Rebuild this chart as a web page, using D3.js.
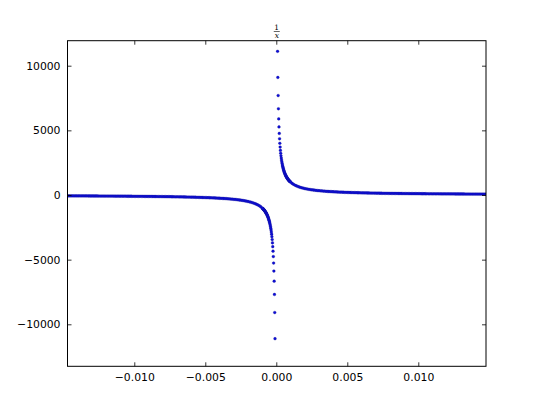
<!DOCTYPE html>
<html>
<head>
<meta charset="utf-8">
<script src="https://cdn.jsdelivr.net/npm/d3@7"></script>
<style>
  html, body { margin: 0; padding: 0; background: #fff; }
  svg { display: block; }
</style>
</head>
<body>
<svg id="chart" width="540" height="407"></svg>
<script>
// ---- data ----
const xTicks = [-0.010, -0.005, 0.000, 0.005, 0.010];
const yTicks = [-10000, -5000, 0, 5000, 10000];

const xPos = [0.00009,0.00011,0.00013,0.00015,0.00017,0.00019,0.00021,0.00023,0.00025,0.00027,0.00029,
0.00031,0.00033,0.00035,0.00037,0.00039,0.00041,0.00043,0.00045,0.00047,0.00049,
0.00051,0.00053,0.00055,0.00057,0.00059,0.00061,0.00063,0.00065,0.00067,0.00069,
0.00071,0.00073,0.00075,0.00077,0.00079,0.00081,0.00083,0.00085,0.00087,0.00089,
0.00091,0.00093,0.00095,0.00097,0.00099,
0.0011,0.0012,0.0013,0.0014,0.0015,0.0016,0.0017,0.0018,0.0019,0.0020,
0.0021,0.0022,0.0023,0.0024,0.0025,0.0026,0.0027,0.0028,0.0029,0.0030,
0.0031,0.0032,0.0033,0.0034,0.0035,0.0036,0.0037,0.0038,0.0039,0.0040,
0.0041,0.0042,0.0043,0.0044,0.0045,0.0046,0.0047,0.0048,0.0049,0.0050,
0.0051,0.0052,0.0053,0.0054,0.0055,0.0056,0.0057,0.0058,0.0059,0.0060,
0.0061,0.0062,0.0063,0.0064,0.0065,0.0066,0.0067,0.0068,0.0069,0.0070,
0.0071,0.0072,0.0073,0.0074,0.0075,0.0076,0.0077,0.0078,0.0079,0.0080,
0.0081,0.0082,0.0083,0.0084,0.0085,0.0086,0.0087,0.0088,0.0089,0.0090,
0.0091,0.0092,0.0093,0.0094,0.0095,0.0096,0.0097,0.0098,0.0099,0.0100,
0.0101,0.0102,0.0103,0.0104,0.0105,0.0106,0.0107,0.0108,0.0109,0.0110,
0.0111,0.0112,0.0113,0.0114,0.0115,0.0116,0.0117,0.0118,0.0119,0.0120,
0.0121,0.0122,0.0123,0.0124,0.0125,0.0126,0.0127,0.0128,0.0129,0.0130,
0.0131,0.0132,0.0133,0.0134,0.0135,0.0136,0.0137,0.0138,0.0139,0.0140,
0.0141,0.0142,0.0143,0.0144,0.0145,0.0146,0.0147,0.0148];

const yPos = [11111,9091,7692,6667,5882,5263,4762,4348,4000,3704,3448,
3226,3030,2857,2703,2564,2439,2326,2222,2128,2041,
1961,1887,1818,1754,1695,1639,1587,1538,1493,1449,
1408,1370,1333,1299,1266,1235,1205,1176,1149,1124,
1099,1075,1053,1031,1010,
909,833,769,714,667,625,588,556,526,500,
476,455,435,417,400,385,370,357,345,333,
323,313,303,294,286,278,270,263,256,250,
244,238,233,227,222,217,213,208,204,200,
196,192,189,185,182,179,175,172,169,167,
164,161,159,156,154,152,149,147,145,143,
141,139,137,135,133,132,130,128,127,125,
123,122,120,119,118,116,115,114,112,111,
110,109,108,106,105,104,103,102,101,100,
99,98,97,96,95,94,93,93,92,91,
90,89,88,88,87,86,85,85,84,83,
83,82,81,81,80,79,79,78,78,77,
76,76,75,75,74,74,73,72,72,71,
71,70,70,69,69,68,68,68];

const xNeg = [-0.00009,-0.00011,-0.00013,-0.00015,-0.00017,-0.00019,-0.00021,-0.00023,-0.00025,-0.00027,-0.00029,
-0.00031,-0.00033,-0.00035,-0.00037,-0.00039,-0.00041,-0.00043,-0.00045,-0.00047,-0.00049,
-0.00051,-0.00053,-0.00055,-0.00057,-0.00059,-0.00061,-0.00063,-0.00065,-0.00067,-0.00069,
-0.00071,-0.00073,-0.00075,-0.00077,-0.00079,-0.00081,-0.00083,-0.00085,-0.00087,-0.00089,
-0.00091,-0.00093,-0.00095,-0.00097,-0.00099,
-0.0011,-0.0012,-0.0013,-0.0014,-0.0015,-0.0016,-0.0017,-0.0018,-0.0019,-0.0020,
-0.0021,-0.0022,-0.0023,-0.0024,-0.0025,-0.0026,-0.0027,-0.0028,-0.0029,-0.0030,
-0.0031,-0.0032,-0.0033,-0.0034,-0.0035,-0.0036,-0.0037,-0.0038,-0.0039,-0.0040,
-0.0041,-0.0042,-0.0043,-0.0044,-0.0045,-0.0046,-0.0047,-0.0048,-0.0049,-0.0050,
-0.0051,-0.0052,-0.0053,-0.0054,-0.0055,-0.0056,-0.0057,-0.0058,-0.0059,-0.0060,
-0.0061,-0.0062,-0.0063,-0.0064,-0.0065,-0.0066,-0.0067,-0.0068,-0.0069,-0.0070,
-0.0071,-0.0072,-0.0073,-0.0074,-0.0075,-0.0076,-0.0077,-0.0078,-0.0079,-0.0080,
-0.0081,-0.0082,-0.0083,-0.0084,-0.0085,-0.0086,-0.0087,-0.0088,-0.0089,-0.0090,
-0.0091,-0.0092,-0.0093,-0.0094,-0.0095,-0.0096,-0.0097,-0.0098,-0.0099,-0.0100,
-0.0101,-0.0102,-0.0103,-0.0104,-0.0105,-0.0106,-0.0107,-0.0108,-0.0109,-0.0110,
-0.0111,-0.0112,-0.0113,-0.0114,-0.0115,-0.0116,-0.0117,-0.0118,-0.0119,-0.0120,
-0.0121,-0.0122,-0.0123,-0.0124,-0.0125,-0.0126,-0.0127,-0.0128,-0.0129,-0.0130,
-0.0131,-0.0132,-0.0133,-0.0134,-0.0135,-0.0136,-0.0137,-0.0138,-0.0139,-0.0140,
-0.0141,-0.0142,-0.0143,-0.0144,-0.0145,-0.0146,-0.0147,-0.0148];

const yNeg = [-11111,-9091,-7692,-6667,-5882,-5263,-4762,-4348,-4000,-3704,-3448,
-3226,-3030,-2857,-2703,-2564,-2439,-2326,-2222,-2128,-2041,
-1961,-1887,-1818,-1754,-1695,-1639,-1587,-1538,-1493,-1449,
-1408,-1370,-1333,-1299,-1266,-1235,-1205,-1176,-1149,-1124,
-1099,-1075,-1053,-1031,-1010,
-909,-833,-769,-714,-667,-625,-588,-556,-526,-500,
-476,-455,-435,-417,-400,-385,-370,-357,-345,-333,
-323,-313,-303,-294,-286,-278,-270,-263,-256,-250,
-244,-238,-233,-227,-222,-217,-213,-208,-204,-200,
-196,-192,-189,-185,-182,-179,-175,-172,-169,-167,
-164,-161,-159,-156,-154,-152,-149,-147,-145,-143,
-141,-139,-137,-135,-133,-132,-130,-128,-127,-125,
-123,-122,-120,-119,-118,-116,-115,-114,-112,-111,
-110,-109,-108,-106,-105,-104,-103,-102,-101,-100,
-99,-98,-97,-96,-95,-94,-93,-93,-92,-91,
-90,-89,-88,-88,-87,-86,-85,-85,-84,-83,
-83,-82,-81,-81,-80,-79,-79,-78,-78,-77,
-76,-76,-75,-75,-74,-74,-73,-72,-72,-71,
-71,-70,-70,-69,-69,-68,-68,-68];

// ---- layout ----
const mLeft = 67.5, mRight = 486, mTop = 40.7, mBottom = 366.3;

const svg = d3.select("#chart");

const x = d3.scaleLinear().domain([-0.014704, 0.014768]).range([mLeft, mRight]);
const y = d3.scaleLinear().domain([-13248, 11933]).range([mBottom, mTop]);

svg.append("defs").append("clipPath").attr("id", "clip")
  .append("rect").attr("x", mLeft).attr("y", mTop)
  .attr("width", mRight - mLeft).attr("height", mBottom - mTop);

const points = d3.zip(xPos, yPos).concat(d3.zip(xNeg, yNeg));

svg.append("g").attr("clip-path", "url(#clip)")
  .selectAll("circle").data(points).join("circle")
  .attr("cx", d => x(d[0]))
  .attr("cy", d => y(d[1]))
  .attr("r", 1.4)
  .attr("fill", "#0c0cd8")
  .attr("stroke", "#101090")
  .attr("stroke-width", 0.3);

const fontFam = "'DejaVu Sans', sans-serif";
const fmtX = d3.format(".3f");
const fmtY = d3.format("d");

function style(g) {
  g.select(".domain").remove();
  g.selectAll(".tick line").attr("stroke", "#000").attr("stroke-width", 0.8);
  g.selectAll(".tick text").attr("fill", "#000")
    .style("font-family", fontFam).style("font-size", "10.8px");
}

svg.append("g").attr("transform", `translate(0,${mBottom})`)
  .call(d3.axisBottom(x).tickValues(xTicks).tickFormat(fmtX).tickSizeInner(-4).tickSizeOuter(0).tickPadding(7))
  .call(style);
svg.append("g").attr("transform", `translate(0,${mTop})`)
  .call(d3.axisTop(x).tickValues(xTicks).tickFormat("").tickSizeInner(-4).tickSizeOuter(0))
  .call(style);
svg.append("g").attr("transform", `translate(${mLeft},0)`)
  .call(d3.axisLeft(y).tickValues(yTicks).tickFormat(fmtY).tickSizeInner(-4).tickSizeOuter(0).tickPadding(7))
  .call(style);
svg.append("g").attr("transform", `translate(${mRight},0)`)
  .call(d3.axisRight(y).tickValues(yTicks).tickFormat("").tickSizeInner(-4).tickSizeOuter(0))
  .call(style);

svg.append("rect")
  .attr("x", mLeft).attr("y", mTop)
  .attr("width", mRight - mLeft).attr("height", mBottom - mTop)
  .attr("fill", "none").attr("stroke", "#000").attr("stroke-width", 1);

// title: fraction 1/x
const tx = (mLeft + mRight) / 2;
const tg = svg.append("g").style("font-family", "'DejaVu Serif', serif");
tg.append("text").attr("x", tx).attr("y", 29.5).attr("text-anchor", "middle")
  .style("font-size", "7.5px").attr("fill", "#000").text("1");
tg.append("line").attr("x1", tx - 3).attr("x2", tx + 3).attr("y1", 31.5).attr("y2", 31.5)
  .attr("stroke", "#000").attr("stroke-width", 0.6);
tg.append("text").attr("x", tx).attr("y", 38).attr("text-anchor", "middle")
  .style("font-size", "7.5px").style("font-style", "italic").attr("fill", "#000").text("x");
</script>
</body>
</html>
